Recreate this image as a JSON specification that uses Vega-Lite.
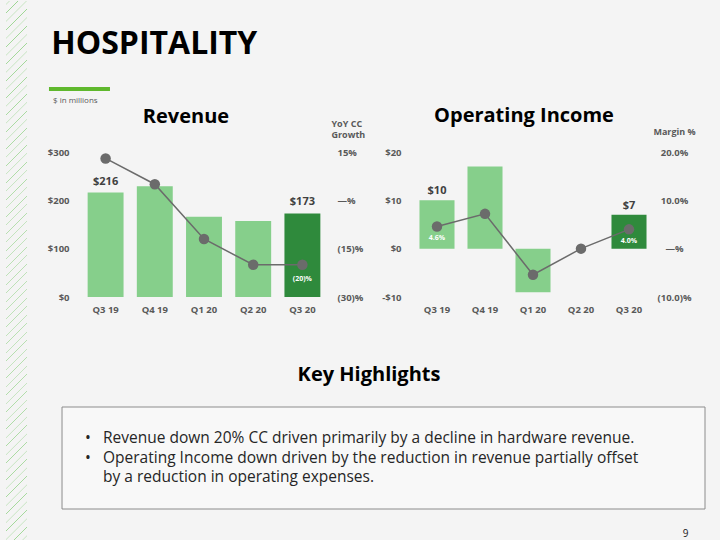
{
  "$schema": "https://vega.github.io/schema/vega-lite/v6.json",
  "background": "#f4f4f4",
  "padding": {"left": 6, "top": 0, "right": 15, "bottom": 0},
  "config": {
    "font": "Open Sans",
    "view": {"stroke": null},
    "axis": {"labelFont": "Open Sans", "labelFontWeight": "bold", "labelColor": "#595959", "labelFontSize": 9.5, "grid": false, "domain": false, "ticks": false, "tickSize": 0, "titleFont": "Open Sans"},
    "title": {"font": "Open Sans"}
  },
  "datasets": {
    "rev": [
      {"q": "Q3 19", "rev": 216, "growth": 13, "period": "prior", "revLabel": "$216", "gLabel": ""},
      {"q": "Q4 19", "rev": 229, "growth": 5, "period": "prior", "revLabel": "", "gLabel": ""},
      {"q": "Q1 20", "rev": 166, "growth": -12, "period": "prior", "revLabel": "", "gLabel": ""},
      {"q": "Q2 20", "rev": 157, "growth": -20, "period": "prior", "revLabel": "", "gLabel": ""},
      {"q": "Q3 20", "rev": 173, "growth": -20, "period": "current", "revLabel": "$173", "gLabel": "(20)%"}
    ],
    "oi": [
      {"q": "Q3 19", "oi": 10, "margin": 4.6, "period": "prior", "oiLabel": "$10", "mLabel": "4.6%"},
      {"q": "Q4 19", "oi": 17, "margin": 7.2, "period": "prior", "oiLabel": "", "mLabel": ""},
      {"q": "Q1 20", "oi": -9, "margin": -5.4, "period": "prior", "oiLabel": "", "mLabel": ""},
      {"q": "Q2 20", "oi": 0, "margin": 0, "period": "prior", "oiLabel": "", "mLabel": ""},
      {"q": "Q3 20", "oi": 7, "margin": 4.0, "period": "current", "oiLabel": "$7", "mLabel": "4.0%"}
    ],
    "notes": [
      {"line": 1, "marker": "•", "text": "Revenue down 20% CC driven primarily by a decline in hardware revenue."},
      {"line": 2, "marker": "•", "text": "Operating Income down driven by the reduction in revenue partially offset"},
      {"line": 3, "marker": "", "text": "by a reduction in operating expenses."}
    ]
  },
  "spacing": 20,
  "hconcat": [
    {
      "width": 21, "height": 454,
      "data": {"values": [{}]},
      "mark": {"type": "rect", "fill": {"gradient": "linear", "x1": 0, "y1": 0, "x2": 0.0404, "y2": 1.04, "stops": [
        {"offset": 0, "color": "#f4f4f4"},
        {"offset": 0.005, "color": "#f4f4f4"}, {"offset": 0.0062, "color": "#9dd693"}, {"offset": 0.0074, "color": "#f4f4f4"},
        {"offset": 0.0201, "color": "#f4f4f4"}, {"offset": 0.0213, "color": "#9dd693"}, {"offset": 0.0225, "color": "#f4f4f4"},
        {"offset": 0.0352, "color": "#f4f4f4"}, {"offset": 0.0364, "color": "#9dd693"}, {"offset": 0.0376, "color": "#f4f4f4"},
        {"offset": 0.0503, "color": "#f4f4f4"}, {"offset": 0.0515, "color": "#9dd693"}, {"offset": 0.0527, "color": "#f4f4f4"},
        {"offset": 0.0654, "color": "#f4f4f4"}, {"offset": 0.0666, "color": "#9dd693"}, {"offset": 0.0678, "color": "#f4f4f4"},
        {"offset": 0.0805, "color": "#f4f4f4"}, {"offset": 0.0817, "color": "#9dd693"}, {"offset": 0.0829, "color": "#f4f4f4"},
        {"offset": 0.0956, "color": "#f4f4f4"}, {"offset": 0.0968, "color": "#9dd693"}, {"offset": 0.098, "color": "#f4f4f4"},
        {"offset": 0.1107, "color": "#f4f4f4"}, {"offset": 0.1119, "color": "#9dd693"}, {"offset": 0.1131, "color": "#f4f4f4"},
        {"offset": 0.1258, "color": "#f4f4f4"}, {"offset": 0.127, "color": "#9dd693"}, {"offset": 0.1282, "color": "#f4f4f4"},
        {"offset": 0.1409, "color": "#f4f4f4"}, {"offset": 0.1421, "color": "#9dd693"}, {"offset": 0.1433, "color": "#f4f4f4"},
        {"offset": 0.156, "color": "#f4f4f4"}, {"offset": 0.1572, "color": "#9dd693"}, {"offset": 0.1584, "color": "#f4f4f4"},
        {"offset": 0.1711, "color": "#f4f4f4"}, {"offset": 0.1723, "color": "#9dd693"}, {"offset": 0.1735, "color": "#f4f4f4"},
        {"offset": 0.1862, "color": "#f4f4f4"}, {"offset": 0.1874, "color": "#9dd693"}, {"offset": 0.1886, "color": "#f4f4f4"},
        {"offset": 0.2013, "color": "#f4f4f4"}, {"offset": 0.2025, "color": "#9dd693"}, {"offset": 0.2037, "color": "#f4f4f4"},
        {"offset": 0.2164, "color": "#f4f4f4"}, {"offset": 0.2176, "color": "#9dd693"}, {"offset": 0.2188, "color": "#f4f4f4"},
        {"offset": 0.2315, "color": "#f4f4f4"}, {"offset": 0.2327, "color": "#9dd693"}, {"offset": 0.2339, "color": "#f4f4f4"},
        {"offset": 0.2466, "color": "#f4f4f4"}, {"offset": 0.2478, "color": "#9dd693"}, {"offset": 0.249, "color": "#f4f4f4"},
        {"offset": 0.2617, "color": "#f4f4f4"}, {"offset": 0.2629, "color": "#9dd693"}, {"offset": 0.2641, "color": "#f4f4f4"},
        {"offset": 0.2768, "color": "#f4f4f4"}, {"offset": 0.278, "color": "#9dd693"}, {"offset": 0.2792, "color": "#f4f4f4"},
        {"offset": 0.2919, "color": "#f4f4f4"}, {"offset": 0.2931, "color": "#9dd693"}, {"offset": 0.2943, "color": "#f4f4f4"},
        {"offset": 0.307, "color": "#f4f4f4"}, {"offset": 0.3082, "color": "#9dd693"}, {"offset": 0.3094, "color": "#f4f4f4"},
        {"offset": 0.3221, "color": "#f4f4f4"}, {"offset": 0.3233, "color": "#9dd693"}, {"offset": 0.3245, "color": "#f4f4f4"},
        {"offset": 0.3372, "color": "#f4f4f4"}, {"offset": 0.3384, "color": "#9dd693"}, {"offset": 0.3396, "color": "#f4f4f4"},
        {"offset": 0.3523, "color": "#f4f4f4"}, {"offset": 0.3535, "color": "#9dd693"}, {"offset": 0.3547, "color": "#f4f4f4"},
        {"offset": 0.3674, "color": "#f4f4f4"}, {"offset": 0.3686, "color": "#9dd693"}, {"offset": 0.3698, "color": "#f4f4f4"},
        {"offset": 0.3825, "color": "#f4f4f4"}, {"offset": 0.3837, "color": "#9dd693"}, {"offset": 0.3849, "color": "#f4f4f4"},
        {"offset": 0.3976, "color": "#f4f4f4"}, {"offset": 0.3988, "color": "#9dd693"}, {"offset": 0.4, "color": "#f4f4f4"},
        {"offset": 0.4127, "color": "#f4f4f4"}, {"offset": 0.4139, "color": "#9dd693"}, {"offset": 0.4151, "color": "#f4f4f4"},
        {"offset": 0.4278, "color": "#f4f4f4"}, {"offset": 0.429, "color": "#9dd693"}, {"offset": 0.4302, "color": "#f4f4f4"},
        {"offset": 0.4429, "color": "#f4f4f4"}, {"offset": 0.4441, "color": "#9dd693"}, {"offset": 0.4453, "color": "#f4f4f4"},
        {"offset": 0.458, "color": "#f4f4f4"}, {"offset": 0.4592, "color": "#9dd693"}, {"offset": 0.4604, "color": "#f4f4f4"},
        {"offset": 0.4731, "color": "#f4f4f4"}, {"offset": 0.4743, "color": "#9dd693"}, {"offset": 0.4755, "color": "#f4f4f4"},
        {"offset": 0.4882, "color": "#f4f4f4"}, {"offset": 0.4894, "color": "#9dd693"}, {"offset": 0.4906, "color": "#f4f4f4"},
        {"offset": 0.5033, "color": "#f4f4f4"}, {"offset": 0.5045, "color": "#9dd693"}, {"offset": 0.5057, "color": "#f4f4f4"},
        {"offset": 0.5184, "color": "#f4f4f4"}, {"offset": 0.5196, "color": "#9dd693"}, {"offset": 0.5208, "color": "#f4f4f4"},
        {"offset": 0.5335, "color": "#f4f4f4"}, {"offset": 0.5347, "color": "#9dd693"}, {"offset": 0.5359, "color": "#f4f4f4"},
        {"offset": 0.5486, "color": "#f4f4f4"}, {"offset": 0.5498, "color": "#9dd693"}, {"offset": 0.551, "color": "#f4f4f4"},
        {"offset": 0.5637, "color": "#f4f4f4"}, {"offset": 0.5649, "color": "#9dd693"}, {"offset": 0.5661, "color": "#f4f4f4"},
        {"offset": 0.5788, "color": "#f4f4f4"}, {"offset": 0.58, "color": "#9dd693"}, {"offset": 0.5812, "color": "#f4f4f4"},
        {"offset": 0.5939, "color": "#f4f4f4"}, {"offset": 0.5951, "color": "#9dd693"}, {"offset": 0.5963, "color": "#f4f4f4"},
        {"offset": 0.609, "color": "#f4f4f4"}, {"offset": 0.6102, "color": "#9dd693"}, {"offset": 0.6114, "color": "#f4f4f4"},
        {"offset": 0.6241, "color": "#f4f4f4"}, {"offset": 0.6253, "color": "#9dd693"}, {"offset": 0.6265, "color": "#f4f4f4"},
        {"offset": 0.6392, "color": "#f4f4f4"}, {"offset": 0.6404, "color": "#9dd693"}, {"offset": 0.6416, "color": "#f4f4f4"},
        {"offset": 0.6543, "color": "#f4f4f4"}, {"offset": 0.6555, "color": "#9dd693"}, {"offset": 0.6567, "color": "#f4f4f4"},
        {"offset": 0.6694, "color": "#f4f4f4"}, {"offset": 0.6706, "color": "#9dd693"}, {"offset": 0.6718, "color": "#f4f4f4"},
        {"offset": 0.6845, "color": "#f4f4f4"}, {"offset": 0.6857, "color": "#9dd693"}, {"offset": 0.6869, "color": "#f4f4f4"},
        {"offset": 0.6996, "color": "#f4f4f4"}, {"offset": 0.7008, "color": "#9dd693"}, {"offset": 0.702, "color": "#f4f4f4"},
        {"offset": 0.7147, "color": "#f4f4f4"}, {"offset": 0.7159, "color": "#9dd693"}, {"offset": 0.7171, "color": "#f4f4f4"},
        {"offset": 0.7298, "color": "#f4f4f4"}, {"offset": 0.731, "color": "#9dd693"}, {"offset": 0.7322, "color": "#f4f4f4"},
        {"offset": 0.7449, "color": "#f4f4f4"}, {"offset": 0.7461, "color": "#9dd693"}, {"offset": 0.7473, "color": "#f4f4f4"},
        {"offset": 0.76, "color": "#f4f4f4"}, {"offset": 0.7612, "color": "#9dd693"}, {"offset": 0.7624, "color": "#f4f4f4"},
        {"offset": 0.7751, "color": "#f4f4f4"}, {"offset": 0.7763, "color": "#9dd693"}, {"offset": 0.7775, "color": "#f4f4f4"},
        {"offset": 0.7902, "color": "#f4f4f4"}, {"offset": 0.7914, "color": "#9dd693"}, {"offset": 0.7926, "color": "#f4f4f4"},
        {"offset": 0.8053, "color": "#f4f4f4"}, {"offset": 0.8065, "color": "#9dd693"}, {"offset": 0.8077, "color": "#f4f4f4"},
        {"offset": 0.8204, "color": "#f4f4f4"}, {"offset": 0.8216, "color": "#9dd693"}, {"offset": 0.8228, "color": "#f4f4f4"},
        {"offset": 0.8355, "color": "#f4f4f4"}, {"offset": 0.8367, "color": "#9dd693"}, {"offset": 0.8379, "color": "#f4f4f4"},
        {"offset": 0.8506, "color": "#f4f4f4"}, {"offset": 0.8518, "color": "#9dd693"}, {"offset": 0.853, "color": "#f4f4f4"},
        {"offset": 0.8657, "color": "#f4f4f4"}, {"offset": 0.8669, "color": "#9dd693"}, {"offset": 0.8681, "color": "#f4f4f4"},
        {"offset": 0.8808, "color": "#f4f4f4"}, {"offset": 0.882, "color": "#9dd693"}, {"offset": 0.8832, "color": "#f4f4f4"},
        {"offset": 0.8959, "color": "#f4f4f4"}, {"offset": 0.8971, "color": "#9dd693"}, {"offset": 0.8983, "color": "#f4f4f4"},
        {"offset": 0.911, "color": "#f4f4f4"}, {"offset": 0.9122, "color": "#9dd693"}, {"offset": 0.9134, "color": "#f4f4f4"},
        {"offset": 0.9261, "color": "#f4f4f4"}, {"offset": 0.9273, "color": "#9dd693"}, {"offset": 0.9285, "color": "#f4f4f4"},
        {"offset": 0.9412, "color": "#f4f4f4"}, {"offset": 0.9424, "color": "#9dd693"}, {"offset": 0.9436, "color": "#f4f4f4"},
        {"offset": 0.9563, "color": "#f4f4f4"}, {"offset": 0.9575, "color": "#9dd693"}, {"offset": 0.9587, "color": "#f4f4f4"},
        {"offset": 0.9714, "color": "#f4f4f4"}, {"offset": 0.9726, "color": "#9dd693"}, {"offset": 0.9738, "color": "#f4f4f4"},
        {"offset": 0.9865, "color": "#f4f4f4"}, {"offset": 0.9877, "color": "#9dd693"}, {"offset": 0.9889, "color": "#f4f4f4"},
        {"offset": 1, "color": "#f4f4f4"}
      ]}},
      "encoding": {
        "x": {"datum": 0, "type": "quantitative", "scale": {"domain": [0, 1]}, "axis": null},
        "x2": {"datum": 1},
        "y": {"datum": 1.18943, "type": "quantitative", "scale": {"domain": [0, 1]}, "axis": null},
        "y2": {"datum": 0}
      }
    },
    {
      "title": {"text": "HOSPITALITY", "anchor": "start", "fontSize": 32, "fontWeight": "bold", "color": "#000000", "baseline": "alphabetic", "offset": 1, "dx": 4},
      "spacing": 50,
      "vconcat": [
        {
          "spacing": 1,
          "vconcat": [
            {
              "width": 61, "height": 4,
              "title": {"text": "$ in millions", "orient": "bottom", "anchor": "start", "fontSize": 8, "fontWeight": "normal", "color": "#595959", "offset": 6, "dx": 4},
              "data": {"values": [{}]},
              "mark": {"type": "rect", "fill": "#5fb82d"},
              "encoding": {
                "x": {"datum": -0.525, "type": "quantitative", "scale": {"domain": [0, 1]}, "axis": null},
                "x2": {"datum": 0.475}
              }
            },
            {
              "spacing": 16,
              "hconcat": [
                {
                  "title": {"text": "Revenue", "fontSize": 20, "fontWeight": "bold", "color": "#000000", "anchor": "middle", "dx": -18, "offset": -8},
                  "width": 246, "height": 145,
                  "data": {"name": "rev"},
                  "encoding": {"x": {"field": "q", "type": "ordinal", "sort": null, "title": null, "scale": {"paddingInner": 0.27, "paddingOuter": 0.135}, "axis": {"labelAngle": 0, "labelPadding": 7}}},
                  "layer": [
                    {"layer": [
                      {"mark": {"type": "bar"},
                       "encoding": {
                         "y": {"field": "rev", "type": "quantitative", "scale": {"domain": [0, 300]}, "axis": {"values": [0, 100, 200, 300], "labelExpr": "'$' + datum.value", "title": null, "labelPadding": 12}},
                         "color": {"field": "period", "type": "nominal", "scale": {"domain": ["prior", "current"], "range": ["#86cf8b", "#2f8a3c"]}, "legend": null}}},
                      {"mark": {"type": "text", "baseline": "bottom", "dy": -6, "fontSize": 11, "fontWeight": "bold", "color": "#404040"},
                       "transform": [{"filter": "datum.revLabel != ''"}],
                       "encoding": {"y": {"field": "rev", "type": "quantitative"}, "text": {"field": "revLabel"}}}
                    ]},
                    {"layer": [
                      {"mark": {"type": "line", "color": "#6b6b6b", "strokeWidth": 1.5},
                       "encoding": {"y": {"field": "growth", "type": "quantitative", "scale": {"domain": [-30, 15]},
                         "axis": {"orient": "right", "values": [-30, -15, 0, 15], "labelAlign": "left", "labelPadding": 10,
                           "labelExpr": "datum.value == 0 ? '—%' : datum.value < 0 ? '(' + (-datum.value) + ')%' : datum.value + '%'",
                           "title": ["YoY CC", "Growth"], "titleAngle": 0, "titleAlign": "left", "titleBaseline": "alphabetic", "titleX": 4, "titleY": -26, "titleFontSize": 9, "titleFontWeight": "bold", "titleColor": "#595959", "titleLineHeight": 11}}}},
                      {"mark": {"type": "point", "filled": true, "color": "#6b6b6b", "size": 110, "opacity": 1},
                       "encoding": {"y": {"field": "growth", "type": "quantitative"}}},
                      {"mark": {"type": "text", "dy": 14, "fontSize": 7, "fontWeight": "bold", "color": "#ffffff"},
                       "transform": [{"filter": "datum.gLabel != ''"}],
                       "encoding": {"y": {"field": "growth", "type": "quantitative"}, "text": {"field": "gLabel"}}}
                    ]}
                  ],
                  "resolve": {"scale": {"y": "independent"}}
                },
                {
                  "title": {"text": "Operating Income", "fontSize": 20, "fontWeight": "bold", "color": "#000000", "anchor": "middle", "dx": -9, "offset": 1},
                  "width": 240, "height": 145,
                  "data": {"name": "oi"},
                  "encoding": {"x": {"field": "q", "type": "ordinal", "sort": null, "title": null, "scale": {"paddingInner": 0.27, "paddingOuter": 0.135}, "axis": {"labelAngle": 0, "labelPadding": 7}}},
                  "layer": [
                    {"layer": [
                      {"mark": {"type": "bar"},
                       "encoding": {
                         "y": {"field": "oi", "type": "quantitative", "scale": {"domain": [-10, 20]}, "axis": {"values": [-10, 0, 10, 20], "labelExpr": "datum.value < 0 ? '-$' + (-datum.value) : '$' + datum.value", "title": null, "labelPadding": 12}},
                         "color": {"field": "period", "type": "nominal", "scale": {"domain": ["prior", "current"], "range": ["#86cf8b", "#2f8a3c"]}, "legend": null}}},
                      {"mark": {"type": "text", "baseline": "bottom", "dy": -4, "fontSize": 11, "fontWeight": "bold", "color": "#404040"},
                       "transform": [{"filter": "datum.oiLabel != ''"}],
                       "encoding": {"y": {"field": "oi", "type": "quantitative"}, "text": {"field": "oiLabel"}}}
                    ]},
                    {"layer": [
                      {"mark": {"type": "line", "color": "#6b6b6b", "strokeWidth": 1.5},
                       "encoding": {"y": {"field": "margin", "type": "quantitative", "scale": {"domain": [-10, 20]},
                         "axis": {"orient": "right", "values": [-10, 0, 10, 20], "labelAlign": "center", "labelPadding": 21,
                           "labelExpr": "datum.value == 0 ? '—%' : datum.value < 0 ? '(' + format(-datum.value, '.1f') + ')%' : format(datum.value, '.1f') + '%'",
                           "title": "Margin %", "titleAngle": 0, "titleAlign": "center", "titleBaseline": "alphabetic", "titleX": 21, "titleY": -18, "titleFontSize": 9, "titleFontWeight": "bold", "titleColor": "#595959"}}}},
                      {"mark": {"type": "point", "filled": true, "color": "#6b6b6b", "size": 110, "opacity": 1},
                       "encoding": {"y": {"field": "margin", "type": "quantitative"}}},
                      {"mark": {"type": "text", "dy": 12, "fontSize": 7, "fontWeight": "bold", "color": "#ffffff"},
                       "transform": [{"filter": "datum.mLabel != ''"}],
                       "encoding": {"y": {"field": "margin", "type": "quantitative"}, "text": {"field": "mLabel"}}}
                    ]}
                  ],
                  "resolve": {"scale": {"y": "independent"}}
                }
              ]
            }
          ]
        },
        {
          "width": 624, "height": 102,
          "title": {"text": "Key Highlights", "fontSize": 20, "fontWeight": "bold", "color": "#000000", "anchor": "middle", "dx": -24, "offset": 22},
          "data": {"name": "notes"},
          "layer": [
            {"data": {"values": [{}]},
             "mark": {"type": "rect", "fill": "#f8f8f8", "stroke": "#8c8c8c", "strokeWidth": 1},
             "encoding": {
               "x": {"datum": -0.0304, "type": "quantitative", "scale": {"domain": [0, 1]},
                 "axis": {"orient": "bottom", "labels": false, "title": "9", "titleAnchor": "start", "titleX": 604, "titleY": 24, "titleAlign": "center", "titleBaseline": "middle", "titleFontSize": 10, "titleFontWeight": "normal", "titleColor": "#222222"}},
               "x2": {"datum": 1}}},
            {"mark": {"type": "text", "align": "center", "fontSize": 15.5, "color": "#262626"},
             "transform": [{"filter": "datum.marker != ''"}],
             "encoding": {
               "x": {"datum": 0.0112, "type": "quantitative"},
               "y": {"field": "line", "type": "quantitative", "axis": null, "scale": {"domain": [-0.6, 4.63], "reverse": true}},
               "text": {"field": "marker"}}},
            {"mark": {"type": "text", "align": "left", "fontSize": 15.5, "color": "#262626"},
             "encoding": {
               "x": {"datum": 0.0353, "type": "quantitative"},
               "y": {"field": "line", "type": "quantitative", "axis": null, "scale": {"domain": [-0.6, 4.63], "reverse": true}},
               "text": {"field": "text"}}}
          ]
        }
      ]
    }
  ]
}
